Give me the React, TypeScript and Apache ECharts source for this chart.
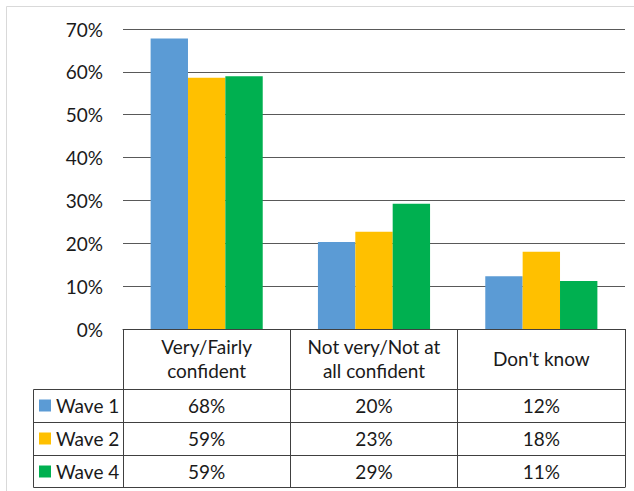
import React, { useEffect, useRef } from 'react';
import * as echarts from 'echarts';

// ---- data ----
const categories = ['Very/Fairly\nconfident', 'Not very/Not at\nall confident', "Don't know"];
const seriesNames = ['Wave 1', 'Wave 2', 'Wave 4'];
const wave1 = [67.8, 20.3, 12.3];
const wave2 = [58.6, 22.7, 18.0];
const wave4 = [59.0, 29.2, 11.2];
const yMin = 0;
const yMax = 70;
const yInterval = 10;

// ---- style / layout ----
const colors = ['#5B9BD5', '#FFC000', '#00B050'];
const FONT = 'Lato';
const FS = 19;
const TXT = '#1a1a1a';
const LINE = '#404040';
const W = 634;
const H = 491;
const gridL = 123;
const gridR = 625;
const gridT = 29;
const gridB = 329;
const headerH = 60;
const rowH = 33;
const tableL = 33;

const seriesData = [wave1, wave2, wave4];

export default function App() {
  const ref = useRef<HTMLDivElement>(null);
  useEffect(() => {
    if (!ref.current) return;
    const chart = echarts.init(ref.current, null, { renderer: 'svg' });
    const rowsTop = gridB + headerH;
    const tableBottom = rowsTop + rowH * seriesData.length - 1;

    const rowAxes = seriesData.map((vals, i) => ({
      type: 'category' as const,
      gridIndex: 0,
      position: 'bottom' as const,
      offset: headerH + rowH * i,
      data: vals.map((v) => `${Math.round(v)}%`),
      axisLine: { show: false },
      axisTick: { show: false },
      splitLine: { show: false },
      axisLabel: {
        interval: 0,
        margin: rowH / 2,
        verticalAlign: 'middle' as const,
        fontFamily: FONT,
        fontSize: FS,
        color: TXT,
      },
    }));

    const hLines = [0, 1, 2, 3].map((i) => {
      const y = (i === 3 ? tableBottom : rowsTop + rowH * i) + 0.5;
      return {
        type: 'line',
        shape: { x1: tableL + 0.5, y1: y, x2: gridR + 0.5, y2: y },
        style: { stroke: LINE, lineWidth: 1 },
        silent: true,
      };
    });

    chart.setOption({
      animation: false,
      backgroundColor: '#ffffff',
      grid: { left: gridL, top: gridT, right: W - gridR, bottom: H - gridB, containLabel: false },
      legend: {
        orient: 'vertical',
        left: 39,
        top: rowsTop,
        padding: 0,
        itemGap: 0,
        itemWidth: 12,
        itemHeight: 12,
        icon: 'rect',
        data: seriesNames,
        textStyle: { fontFamily: FONT, fontSize: FS, color: TXT, lineHeight: rowH, padding: [0, 0, 0, 0] },
        selectedMode: false,
      },
      xAxis: [
        {
          type: 'category',
          data: categories,
          position: 'bottom',
          axisLine: { show: true, lineStyle: { color: LINE, width: 1 } },
          axisTick: { show: true, length: tableBottom - gridB, alignWithLabel: false, interval: 0, lineStyle: { color: LINE, width: 1 } },
          axisLabel: {
            interval: 0,
            margin: headerH / 2 - 1,
            verticalAlign: 'middle',
            fontFamily: FONT,
            fontSize: FS,
            lineHeight: 24,
            color: TXT,
          },
          splitLine: { show: false },
        },
        ...rowAxes,
      ],
      yAxis: {
        type: 'value',
        min: yMin,
        max: yMax,
        interval: yInterval,
        axisLine: { show: false },
        axisTick: { show: false },
        splitLine: { show: true, lineStyle: { color: '#595959', width: 1 } },
        axisLabel: {
          formatter: (v: number) => `${v}%`,
          margin: 20,
          fontFamily: FONT,
          fontSize: FS,
          color: TXT,
        },
      },
      series: seriesData.map((d, i) => ({
        type: 'bar',
        name: seriesNames[i],
        data: d,
        xAxisIndex: 0,
        barGap: '0%',
        barCategoryGap: '33%',
        itemStyle: { color: colors[i] },
      })),
      graphic: [
        {
          type: 'rect',
          shape: { x: 6.5, y: 6.5, width: W + 20, height: H + 20 },
          style: { fill: 'none', stroke: '#d9d9d9', lineWidth: 1 },
          silent: true,
          z: -10,
        },
        ...hLines,
        {
          type: 'line',
          shape: { x1: tableL + 0.5, y1: rowsTop + 0.5, x2: tableL + 0.5, y2: tableBottom + 0.5 },
          style: { stroke: LINE, lineWidth: 1 },
          silent: true,
        },
      ],
    });
    return () => chart.dispose();
  }, []);
  return <div ref={ref} style={{ position: 'fixed', left: 0, top: 0, width: W, height: H, background: '#fff' }} />;
}
